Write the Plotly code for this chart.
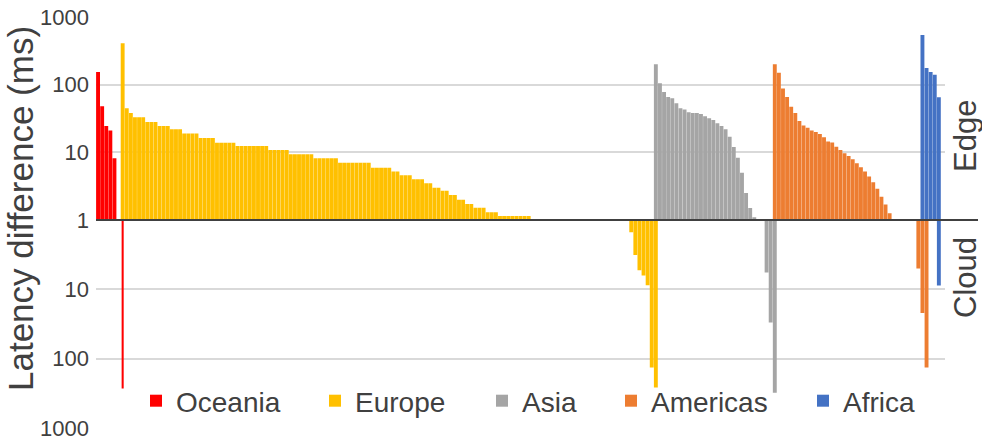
import plotly.graph_objects as go

# ---------------------------------------------------------------------------
# Data: per-region latency differences (ms), sorted as plotted.
# "edge" = edge server faster by this much, "cloud" = cloud faster by this much.
# ---------------------------------------------------------------------------
regions = ["Oceania", "Europe", "Asia", "Americas", "Africa"]

oceania_edge = [154, 48, 24.5, 21, 8.2]
europe_edge = [
    410, 45, 38, 33, 33, 33, 28, 28, 28, 24.5,
    24.5, 24.5, 22, 22, 22, 19, 19, 19, 19, 16.3,
    16.3, 16.3, 16.3, 13.8, 13.8, 13.8, 13.8, 13.8, 12.4, 12.4,
    12.4, 12.4, 12.4, 12.4, 12.4, 12.4, 10.8, 10.8, 10.8, 10.8,
    10.8, 9.4, 9.4, 9.4, 9.4, 9.4, 9.4, 8.2, 8.2, 8.2,
    8.2, 8.2, 8.2, 7.0, 7.0, 7.0, 7.0, 7.0, 7.0, 7.0,
    7.0, 5.9, 5.9, 5.9, 5.9, 5.9, 5.2, 5.2, 4.6, 4.6,
    4.6, 4.0, 4.0, 4.0, 3.5, 3.5, 3.0, 3.0, 2.7, 2.7,
    2.35, 2.35, 2.0, 2.0, 1.72, 1.72, 1.52, 1.52, 1.52, 1.30,
    1.30, 1.30, 1.15, 1.15, 1.15, 1.15, 1.15, 1.15, 1.15, 1.15,
]
asia_edge = [200, 105, 78, 66, 63, 53, 45, 43, 39, 38, 38, 37, 34, 32, 30,
             27, 24.5, 22, 17, 12, 8.3, 5, 2.5, 1.5, 1.1]
americas_edge = [201, 150, 88, 66, 47, 38, 29, 25, 23, 21, 20, 18.6, 16.7,
                 14.4, 14, 12.1, 10.8, 9.7, 8.8, 7.9, 6.9, 6.0, 5.2, 4.4,
                 3.6, 2.9, 2.2, 1.7, 1.26]
africa_edge = [540, 177, 154, 140, 65]

oceania_cloud = [270]
europe_cloud = [1.5, 3.2, 5.3, 6.3, 8.7, 134, 260]
asia_cloud = [5.7, 30, 310]
americas_cloud = [5, 22, 134]
africa_cloud = [8.8]

# first category slot of each region's edge and cloud groups
edge_first_slot = [0, 6, 136, 165, 201]
cloud_first_slot = [6, 130, 163, 200, 205]

y_ticks_edge = [1, 10, 100, 1000]
y_ticks_cloud = [10, 100, 1000]

# ---------------------------------------------------------------------------
edge_values = [oceania_edge, europe_edge, asia_edge, americas_edge, africa_edge]
cloud_values = [oceania_cloud, europe_cloud, asia_cloud, americas_cloud, africa_cloud]
colors = ["#ff0000", "#ffc000", "#a5a5a5", "#ed7d31", "#4472c4"]
n_slots = 207

W, H = 982, 445
ML, MR, MT, MB = 96, 37, 17, 17
plot_w = W - ML - MR
plot_h = H - MT - MB
split = (428 - 220) / plot_h  # where the "1 ms" baseline sits (paper y)

FONT = "Liberation Sans, Arial, sans-serif"
TXT = "#404040"

fig = go.Figure()

legend_x = [136, 315, 482, 611, 803]
legend_names = ["legend"] + [f"legend{i}" for i in range(2, 6)]

# Bars on the log axes grow from the 1 ms edge of each panel:
# upward in the "Edge" panel, downward in the reversed "Cloud" panel.
for i, region in enumerate(regions):
    ev = edge_values[i]
    xs = [edge_first_slot[i] + k for k in range(len(ev))]
    fig.add_trace(go.Bar(
        x=xs, y=ev, name=region, marker_color=colors[i],
        marker_line_width=0, xaxis="x", yaxis="y",
        legend=legend_names[i], hoverinfo="skip",
    ))
    cv = cloud_values[i]
    xs = [cloud_first_slot[i] + k for k in range(len(cv))]
    fig.add_trace(go.Bar(
        x=xs, y=cv, name=region, marker_color=colors[i],
        marker_line_width=0, xaxis="x2", yaxis="y2", showlegend=False,
        width=0.5 if i == 0 else None, hoverinfo="skip",
    ))

layout = dict(
    width=W, height=H,
    margin=dict(l=ML, r=MR, t=MT, b=MB, pad=0, autoexpand=False),
    paper_bgcolor="white", plot_bgcolor="white",
    barmode="overlay", bargap=0.05,
    font=dict(family=FONT, color=TXT),
    xaxis=dict(domain=[0, 1], range=[-0.5, n_slots - 0.5], visible=False,
               anchor="y"),
    xaxis2=dict(domain=[0, 1], range=[-0.5, n_slots - 0.5], visible=False,
                anchor="y2", matches="x"),
    yaxis=dict(domain=[split, 1], type="log", range=[0, 3],
               tickvals=y_ticks_edge, ticktext=[str(v) for v in y_ticks_edge],
               showgrid=True, gridcolor="#d9d9d9", gridwidth=2,
               zeroline=False, showline=False, ticks="",
               tickfont=dict(size=22, color=TXT), ticklabelstandoff=6),
    yaxis2=dict(domain=[0, split], type="log", range=[3, 0],
                tickvals=y_ticks_cloud, ticktext=[str(v) for v in y_ticks_cloud],
                showgrid=True, gridcolor="#d9d9d9", gridwidth=2,
                zeroline=False, showline=False, ticks="",
                tickfont=dict(size=22, color=TXT), ticklabelstandoff=6),
    shapes=[dict(type="line", xref="paper", yref="paper",
                 x0=0, x1=(978 - ML) / plot_w, y0=split, y1=split,
                 line=dict(color="#404040", width=2), layer="above")],
    annotations=[
        dict(text="Latency difference (ms)", textangle=-90,
             xref="paper", yref="paper", xanchor="center", yanchor="middle",
             x=(20 - ML) / plot_w, y=(428 - 209) / plot_h,
             showarrow=False, font=dict(size=35, color=TXT, family=FONT)),
        dict(text="Edge", textangle=-90, xref="paper", yref="paper",
             xanchor="center", yanchor="middle",
             x=(965 - ML) / plot_w, y=(428 - 136) / plot_h,
             showarrow=False, font=dict(size=31, color=TXT, family=FONT)),
        dict(text="Cloud", textangle=-90, xref="paper", yref="paper",
             xanchor="center", yanchor="middle",
             x=(965 - ML) / plot_w, y=(428 - 278) / plot_h,
             showarrow=False, font=dict(size=31, color=TXT, family=FONT)),
    ],
)

for name, lx in zip(legend_names, legend_x):
    layout[name] = dict(
        xref="container", yref="container", x=lx / W, y=1 - 401 / H,
        xanchor="left", yanchor="middle", orientation="h",
        bgcolor="rgba(0,0,0,0)", borderwidth=0,
        font=dict(size=28, color=TXT, family=FONT),
    )

fig.update_layout(**layout)
fig.write_html("out.html")
